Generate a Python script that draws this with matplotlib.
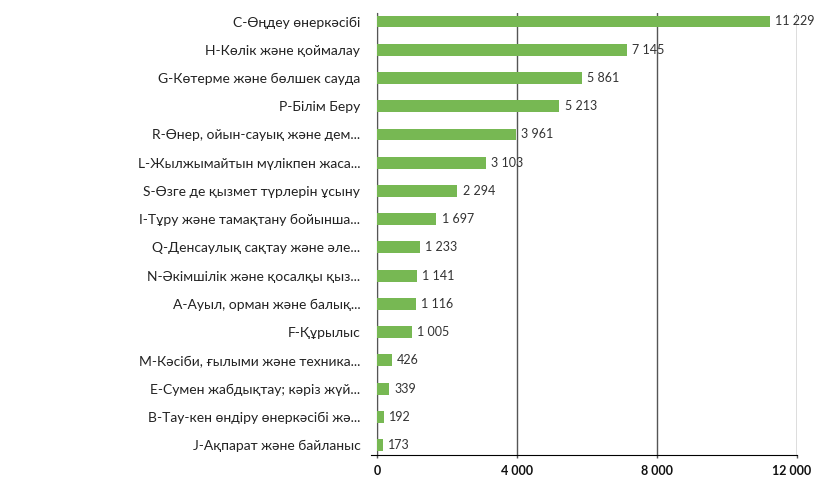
import matplotlib.pyplot as plt
import matplotlib.transforms as mtransforms
from matplotlib.ticker import FuncFormatter

# data
categories = [
    "C-Өңдеу өнеркәсібі",
    "H-Көлік және қоймалау",
    "G-Көтерме және бөлшек сауда",
    "P-Білім Беру",
    "R-Өнер, ойын-сауық және дем...",
    "L-Жылжымайтын мүлікпен жаса...",
    "S-Өзге де қызмет түрлерін ұсыну",
    "I-Тұру және тамақтану бойынша...",
    "Q-Денсаулық сақтау және әле...",
    "N-Әкімшілік және қосалқы қыз...",
    "A-Ауыл, орман және балық...",
    "F-Құрылыс",
    "M-Кәсіби, ғылыми және техника...",
    "E-Сумен жабдықтау; кәріз жүй...",
    "B-Тау-кен өндіру өнеркәсібі жә...",
    "J-Ақпарат және байланыс",
]
values = [11229, 7145, 5861, 5213, 3961, 3103, 2294, 1697, 1233, 1141, 1116, 1005, 426, 339, 192, 173]
xticks = [0, 4000, 8000, 12000]

plt.rcParams['font.family'] = ['Lato', 'DejaVu Sans']

def fmt(v):
    return f"{int(v):,}".replace(",", " ")

fig = plt.figure(figsize=(8.14, 4.82), dpi=100)
ax = fig.add_axes([377/814, 27/482, 420/814, 442/482])

ypos = list(range(len(categories)))
ax.barh(ypos, values, height=0.42, color='#77b853', zorder=3)

for y, v in zip(ypos, values):
    ax.text(v + 150, y, fmt(v), va='center', ha='left', fontsize=9, color='#333333', zorder=4)

ax.set_xlim(0, 12000)
ax.set_ylim(15.35, -0.3)
ax.set_yticks(ypos)
ax.set_yticklabels(categories, fontsize=10, color='#222222')
ax.tick_params(axis='y', length=0, pad=12)

ax.set_xticks(xticks)
ax.set_xticklabels([fmt(t) for t in xticks])
ax.tick_params(axis='x', length=2, width=1, color='#555555', pad=5)
for lab in ax.get_xticklabels():
    lab.set_fontweight('bold')
    lab.set_fontsize(9)
    lab.set_color('#111111')
# keep the last tick label inside the figure
last = ax.get_xticklabels()[-1]
last.set_horizontalalignment('right')
last.set_transform(last.get_transform() + mtransforms.ScaledTranslation(14/100, 0, fig.dpi_scale_trans))

ax.grid(axis='x', color='#555555', linewidth=1, zorder=1)
ax.grid(axis='y', visible=False)
for s in ['top', 'right']:
    ax.spines[s].set_visible(False)
ax.spines['left'].set_color('#555555')
ax.spines['bottom'].set_color('#000000')
ax.spines['bottom'].set_bounds(-170, 12000)

fig.savefig('out.png', dpi=100, facecolor='white')
